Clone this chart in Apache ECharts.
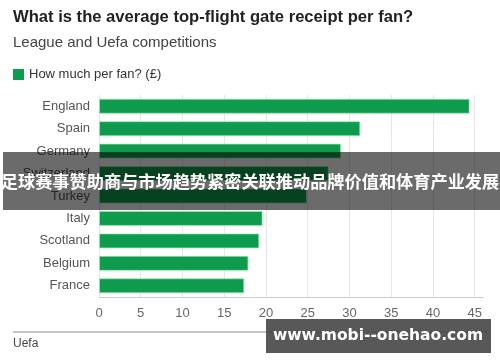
<!DOCTYPE html>
<html>
<head>
<meta charset="utf-8">
<script src="https://cdn.jsdelivr.net/npm/echarts@6/dist/echarts.min.js"></script>
<style>
html,body{margin:0;padding:0;background:#fff;}
#chart{width:500px;height:362px;}
</style>
</head>
<body>
<div id="chart"></div>
<script>
var countries = ['England','Spain','Germany','Switzerland','Turkey','Italy','Scotland','Belgium','France'];
var perFan = [44.4, 31.3, 29.0, 27.5, 24.9, 19.6, 19.2, 17.9, 17.4];
var seriesName = 'How much per fan? (£)';
var titleText = 'What is the average top-flight gate receipt per fan?';
var subtitleText = 'League and Uefa competitions';
var sourceText = 'Uefa';
var bannerText = '足球赛事赞助商与市场趋势紧密关联推动品牌价值和体育产业发展';
var watermarkText = 'www.mobi--onehao.com';

var font = '"Liberation Sans", Arial, sans-serif';
var chart = echarts.init(document.getElementById('chart'), null, {renderer:'canvas'});
chart.setOption({
  backgroundColor:'#ffffff',
  animation:false,
  title:{
    text:titleText,
    subtext:subtitleText,
    left:13, top:9, padding:0,
    itemGap:9,
    textStyle:{fontFamily:font, fontSize:16.6, fontWeight:'bold', color:'#222'},
    subtextStyle:{fontFamily:font, fontSize:15, color:'#444'}
  },
  legend:{
    left:13, top:68, padding:0,
    icon:'rect', itemWidth:11, itemHeight:11, itemGap:6,
    itemStyle:{borderWidth:0},
    textStyle:{fontFamily:font, fontSize:13, color:'#333'},
    data:[seriesName]
  },
  grid:{left:99, right:17, top:95, bottom:65},
  xAxis:{
    type:'value', min:0, max:46, interval:5,
    axisLine:{show:true, lineStyle:{color:'#cccccc', width:1}},
    axisTick:{show:false},
    splitLine:{show:true, showMaxLine:false, lineStyle:{color:'#e6e6e6', width:1}},
    axisLabel:{showMaxLabel:false, fontFamily:font, fontSize:13, color:'#666', margin:10}
  },
  yAxis:{
    type:'category', inverse:true, data:countries,
    axisLine:{show:false}, axisTick:{show:false},
    axisLabel:{fontFamily:font, fontSize:13, color:'#555', margin:9}
  },
  series:[{
    name:seriesName, type:'bar', data:perFan, barWidth:15,
    itemStyle:{color:'#0f9b4e', borderColor:'rgba(150,235,180,0.7)', borderWidth:1}
  }],
  graphic:[
    {type:'line', shape:{x1:13, y1:332, x2:487, y2:332}, style:{stroke:'#8a8a8a', lineWidth:1}, z:10},
    {type:'text', left:13, top:338, style:{text:sourceText, font:'12px '+font, fill:'#444'}, z:10},
    {type:'rect', shape:{x:3, y:152, width:497, height:58}, style:{fill:'rgba(0,0,0,0.58)'}, z:100},
    {type:'text', x:250, y:181, style:{text:bannerText, font:'bold 17.2px "Noto Sans CJK SC", sans-serif', fill:'#ffffff', align:'center', verticalAlign:'middle'}, z:101},
    {type:'rect', shape:{x:266, y:319, width:225, height:34}, style:{fill:'rgba(70,70,70,0.9)'}, z:100},
    {type:'text', x:378, y:336, style:{text:watermarkText, font:'bold 15.5px "DejaVu Sans", sans-serif', fill:'#ffffff', align:'center', verticalAlign:'middle'}, z:101}
  ]
});
</script>
</body>
</html>
